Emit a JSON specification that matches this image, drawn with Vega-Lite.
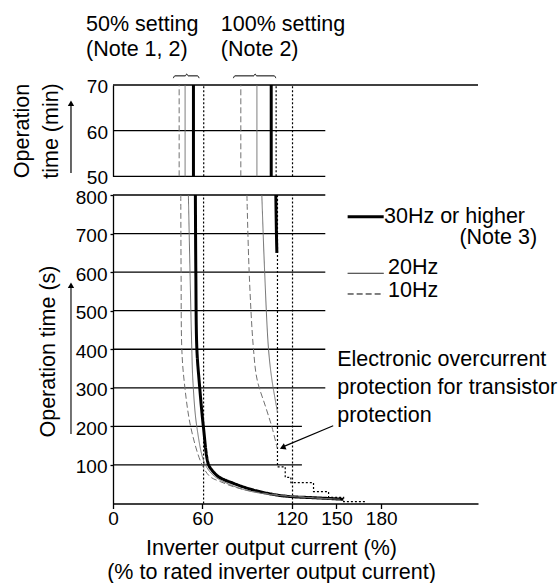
{
  "$schema": "https://vega.github.io/schema/vega-lite/v6.json",
  "padding": {"left": 11, "top": 13, "right": 0, "bottom": 0},
  "background": "white",
  "bounds": "flush",
  "spacing": 18,
  "resolve": {"scale": {"x": "independent", "y": "independent"}, "axis": {"x": "independent", "y": "independent"}},
  "config": {
    "font": "Liberation Sans",
    "view": {"stroke": null},
    "axis": {"labelFont": "Liberation Sans", "titleFont": "Liberation Sans", "labelColor": "#000", "titleColor": "#000", "domainColor": "#000", "tickColor": "#000", "grid": false, "labelFontSize": 19, "titleFontSize": 21.5, "titleFontWeight": "normal", "domainWidth": 1.3, "tickWidth": 1.3, "labelFlush": false},
    "text": {"font": "Liberation Sans", "fontSize": 21.5, "align": "left", "baseline": "alphabetic", "color": "#000"}
  },
  "datasets": {
    "gridTop": [
      {"y": 70, "x1": 0, "x2": 245},
      {"y": 60, "x1": 0, "x2": 142.5},
      {"y": 50, "x1": 0, "x2": 142.5}
    ],
    "vertTop": [
      {"setting": "50%", "kind": "10Hz", "x": 44.4},
      {"setting": "50%", "kind": "20Hz", "x": 48.4},
      {"setting": "50%", "kind": "30Hz or higher", "x": 54},
      {"setting": "50%", "kind": "limit", "x": 60.9},
      {"setting": "100%", "kind": "10Hz", "x": 85.8},
      {"setting": "100%", "kind": "20Hz", "x": 96.6},
      {"setting": "100%", "kind": "30Hz or higher", "x": 106.2},
      {"setting": "100%", "kind": "limit", "x": 109.5},
      {"setting": "100%", "kind": "limit", "x": 120.5}
    ],
    "braces": [
      {"b": "50%", "o": 1, "x": 40.5, "y": 71.5},
      {"b": "50%", "o": 2, "x": 41.5, "y": 72.0},
      {"b": "50%", "o": 3, "x": 48.5, "y": 72.0},
      {"b": "50%", "o": 4, "x": 49.5, "y": 72.4},
      {"b": "50%", "o": 5, "x": 50.5, "y": 72.0},
      {"b": "50%", "o": 6, "x": 56.8, "y": 72.0},
      {"b": "50%", "o": 7, "x": 57.8, "y": 71.5},
      {"b": "100%", "o": 1, "x": 80.8, "y": 71.5},
      {"b": "100%", "o": 2, "x": 81.8, "y": 72.0},
      {"b": "100%", "o": 3, "x": 94.4, "y": 72.0},
      {"b": "100%", "o": 4, "x": 95.4, "y": 72.4},
      {"b": "100%", "o": 5, "x": 96.4, "y": 72.0},
      {"b": "100%", "o": 6, "x": 108.3, "y": 72.0},
      {"b": "100%", "o": 7, "x": 109.3, "y": 71.5}
    ],
    "textTop": [
      {"x": -18.1, "y": 81.9, "t": "50% setting"},
      {"x": -18.1, "y": 76.3, "t": "(Note 1, 2)"},
      {"x": 72.4, "y": 81.9, "t": "100% setting"},
      {"x": 72.4, "y": 76.3, "t": "(Note 2)"}
    ],
    "arrowTop": [{"x": -28.2, "y1": 50.7, "y2": 65.6, "yh": 66.0}],
    "gridMain": [
      {"y": 800, "x1": 0, "x2": 142.5},
      {"y": 700, "x1": 0, "x2": 142.5},
      {"y": 600, "x1": 0, "x2": 142.5},
      {"y": 500, "x1": 0, "x2": 142.5},
      {"y": 400, "x1": 0, "x2": 142.5},
      {"y": 300, "x1": 0, "x2": 142.5},
      {"y": 200, "x1": 0, "x2": 126.8},
      {"y": 100, "x1": 0, "x2": 126.8}
    ],
    "curves": [
      {"setting": "50%", "kind": "30Hz or higher", "o": 1, "x": 55.3, "y": 800},
      {"setting": "50%", "kind": "30Hz or higher", "o": 2, "x": 55.6, "y": 600},
      {"setting": "50%", "kind": "30Hz or higher", "o": 3, "x": 56.3, "y": 400},
      {"setting": "50%", "kind": "30Hz or higher", "o": 4, "x": 58.0, "y": 310},
      {"setting": "50%", "kind": "30Hz or higher", "o": 5, "x": 60.7, "y": 198},
      {"setting": "50%", "kind": "30Hz or higher", "o": 6, "x": 64.0, "y": 102},
      {"setting": "50%", "kind": "30Hz or higher", "o": 7, "x": 66.3, "y": 87},
      {"setting": "50%", "kind": "30Hz or higher", "o": 8, "x": 70.8, "y": 69.5},
      {"setting": "50%", "kind": "30Hz or higher", "o": 9, "x": 80.8, "y": 52.4},
      {"setting": "50%", "kind": "30Hz or higher", "o": 10, "x": 94.3, "y": 35},
      {"setting": "50%", "kind": "30Hz or higher", "o": 11, "x": 110, "y": 22},
      {"setting": "50%", "kind": "30Hz or higher", "o": 12, "x": 120.3, "y": 17.6},
      {"setting": "50%", "kind": "30Hz or higher", "o": 13, "x": 134.6, "y": 15},
      {"setting": "50%", "kind": "30Hz or higher", "o": 14, "x": 154.6, "y": 11},
      {"setting": "50%", "kind": "20Hz", "o": 1, "x": 50.6, "y": 800},
      {"setting": "50%", "kind": "20Hz", "o": 2, "x": 51.7, "y": 600},
      {"setting": "50%", "kind": "20Hz", "o": 3, "x": 52.9, "y": 400},
      {"setting": "50%", "kind": "20Hz", "o": 4, "x": 53.6, "y": 320},
      {"setting": "50%", "kind": "20Hz", "o": 5, "x": 56.3, "y": 198},
      {"setting": "50%", "kind": "20Hz", "o": 6, "x": 61.8, "y": 102},
      {"setting": "50%", "kind": "20Hz", "o": 7, "x": 68.5, "y": 69.5},
      {"setting": "50%", "kind": "20Hz", "o": 8, "x": 78.6, "y": 49},
      {"setting": "50%", "kind": "20Hz", "o": 9, "x": 88.7, "y": 35},
      {"setting": "50%", "kind": "20Hz", "o": 10, "x": 102, "y": 25},
      {"setting": "50%", "kind": "20Hz", "o": 11, "x": 120, "y": 18},
      {"setting": "50%", "kind": "20Hz", "o": 12, "x": 152.5, "y": 11},
      {"setting": "50%", "kind": "10Hz", "o": 1, "x": 45.5, "y": 800},
      {"setting": "50%", "kind": "10Hz", "o": 2, "x": 45.7, "y": 600},
      {"setting": "50%", "kind": "10Hz", "o": 3, "x": 46.2, "y": 400},
      {"setting": "50%", "kind": "10Hz", "o": 4, "x": 47.7, "y": 320},
      {"setting": "50%", "kind": "10Hz", "o": 5, "x": 52.2, "y": 198},
      {"setting": "50%", "kind": "10Hz", "o": 6, "x": 59.6, "y": 102},
      {"setting": "50%", "kind": "10Hz", "o": 7, "x": 65.2, "y": 69.5},
      {"setting": "50%", "kind": "10Hz", "o": 8, "x": 71.9, "y": 57},
      {"setting": "50%", "kind": "10Hz", "o": 9, "x": 80.6, "y": 44},
      {"setting": "50%", "kind": "10Hz", "o": 10, "x": 95.4, "y": 30},
      {"setting": "50%", "kind": "10Hz", "o": 11, "x": 119, "y": 20},
      {"setting": "50%", "kind": "10Hz", "o": 12, "x": 149, "y": 11},
      {"setting": "100%", "kind": "30Hz or higher", "o": 1, "x": 109.3, "y": 800},
      {"setting": "100%", "kind": "30Hz or higher", "o": 2, "x": 109.7, "y": 700},
      {"setting": "100%", "kind": "30Hz or higher", "o": 3, "x": 110, "y": 650},
      {"setting": "100%", "kind": "20Hz", "o": 1, "x": 99.9, "y": 800},
      {"setting": "100%", "kind": "20Hz", "o": 2, "x": 101.8, "y": 600},
      {"setting": "100%", "kind": "20Hz", "o": 3, "x": 104.4, "y": 400},
      {"setting": "100%", "kind": "20Hz", "o": 4, "x": 106.7, "y": 320},
      {"setting": "100%", "kind": "20Hz", "o": 5, "x": 110.5, "y": 235},
      {"setting": "100%", "kind": "10Hz", "o": 1, "x": 89.9, "y": 800},
      {"setting": "100%", "kind": "10Hz", "o": 2, "x": 91.4, "y": 600},
      {"setting": "100%", "kind": "10Hz", "o": 3, "x": 94.3, "y": 400},
      {"setting": "100%", "kind": "10Hz", "o": 4, "x": 96.8, "y": 320},
      {"setting": "100%", "kind": "10Hz", "o": 5, "x": 102.5, "y": 250},
      {"setting": "100%", "kind": "10Hz", "o": 6, "x": 106.7, "y": 198},
      {"setting": "100%", "kind": "10Hz", "o": 7, "x": 110.2, "y": 144}
    ],
    "dottedMain": [
      {"kind": "limit", "x": 60.8},
      {"kind": "limit", "x": 120.5}
    ],
    "step": [
      {"kind": "limit", "o": 1, "x": 110.4, "y": 800},
      {"kind": "limit", "o": 2, "x": 110.4, "y": 95},
      {"kind": "limit", "o": 3, "x": 115.6, "y": 95},
      {"kind": "limit", "o": 4, "x": 115.6, "y": 68},
      {"kind": "limit", "o": 5, "x": 119.4, "y": 68},
      {"kind": "limit", "o": 6, "x": 119.4, "y": 54},
      {"kind": "limit", "o": 7, "x": 134.6, "y": 54},
      {"kind": "limit", "o": 8, "x": 134.6, "y": 31},
      {"kind": "limit", "o": 9, "x": 144.7, "y": 31},
      {"kind": "limit", "o": 10, "x": 144.7, "y": 16},
      {"kind": "limit", "o": 11, "x": 154.8, "y": 16},
      {"kind": "limit", "o": 12, "x": 154.8, "y": 5},
      {"kind": "limit", "o": 13, "x": 169.4, "y": 5}
    ],
    "legend": [
      {"kind": "30Hz or higher", "x1": 157.5, "x2": 181.7, "y": 743.8},
      {"kind": "20Hz", "x1": 157.5, "x2": 181.7, "y": 597},
      {"kind": "10Hz", "x1": 157.5, "x2": 181.7, "y": 543.3}
    ],
    "textMain": [
      {"x": 181.9, "y": 726.7, "t": "30Hz or higher"},
      {"x": 232.5, "y": 673, "t": "(Note 3)"},
      {"x": 184.6, "y": 595.2, "t": "20Hz"},
      {"x": 184.6, "y": 536.3, "t": "10Hz"},
      {"x": 150.5, "y": 357.4, "t": "Electronic overcurrent"},
      {"x": 150.5, "y": 285, "t": "protection for transistor"},
      {"x": 150.5, "y": 212, "t": "protection"}
    ],
    "arrowLines": [
      {"a": "axis", "o": 1, "x": -28.2, "y": 180.2},
      {"a": "axis", "o": 2, "x": -28.2, "y": 564},
      {"a": "note", "o": 1, "x": 147.8, "y": 201.8},
      {"a": "note", "o": 2, "x": 114.4, "y": 147.5}
    ],
    "arrowHeadAxis": [{"x": -28.2, "y": 566}],
    "arrowHeadNote": [{"x": 113.8, "y": 145.2}]
  },
  "vconcat": [
    {
      "width": 365,
      "height": 91.3,
      "layer": [
        {
          "data": {"name": "gridTop"},
          "mark": {"type": "rule", "color": "#000", "strokeWidth": 1.3},
          "encoding": {
            "x": {"field": "x1", "type": "quantitative", "scale": {"domain": [0, 245], "nice": false, "zero": false}, "axis": null},
            "x2": {"field": "x2"},
            "y": {"field": "y", "type": "quantitative", "scale": {"domain": [50, 70], "nice": false, "zero": false},
              "axis": {"values": [50, 60, 70], "tickSize": 0, "labelPadding": 5.5, "labelOffset": 1.5, "domain": true,
                "title": ["Operation", "time (min)"], "titleAngle": -90, "titleBaseline": "top", "titleAlign": "center", "titleLineHeight": 29, "titleX": -101.6, "titleY": 45.5}}
          }
        },
        {
          "data": {"name": "vertTop"},
          "mark": {"type": "rule"},
          "encoding": {
            "x": {"field": "x", "type": "quantitative"},
            "y": {"datum": 50, "type": "quantitative"},
            "y2": {"datum": 70},
            "color": {"field": "kind", "type": "nominal", "scale": {"type": "ordinal", "domain": ["30Hz or higher", "20Hz", "10Hz", "limit"], "range": ["#000000", "#707070", "#707070", "#000000"]}, "legend": null},
            "strokeWidth": {"field": "kind", "type": "nominal", "scale": {"type": "ordinal", "domain": ["30Hz or higher", "20Hz", "10Hz", "limit"], "range": [3, 1, 1, 1.2]}, "legend": null},
            "strokeDash": {"field": "kind", "type": "nominal", "scale": {"type": "ordinal", "domain": ["30Hz or higher", "20Hz", "10Hz", "limit"], "range": [[1, 0], [1, 0], [6, 3], [2, 2]]}, "legend": null}
          }
        },
        {
          "data": {"name": "braces"},
          "mark": {"type": "line", "color": "#000", "strokeWidth": 1, "interpolate": "monotone"},
          "encoding": {
            "x": {"field": "x", "type": "quantitative"},
            "y": {"field": "y", "type": "quantitative"},
            "detail": {"field": "b"},
            "order": {"field": "o"}
          }
        },
        {
          "data": {"name": "textTop"},
          "mark": {"type": "text"},
          "encoding": {
            "x": {"field": "x", "type": "quantitative"},
            "y": {"field": "y", "type": "quantitative"},
            "text": {"field": "t"}
          }
        },
        {
          "data": {"name": "arrowTop"},
          "mark": {"type": "rule", "color": "#000", "strokeWidth": 1.2},
          "encoding": {
            "x": {"field": "x", "type": "quantitative"},
            "y": {"field": "y1", "type": "quantitative"},
            "y2": {"field": "y2"}
          }
        },
        {
          "data": {"name": "arrowTop"},
          "mark": {"type": "point", "shape": "triangle-up", "filled": true, "color": "#000", "size": 40, "opacity": 1},
          "encoding": {
            "x": {"field": "x", "type": "quantitative"},
            "y": {"field": "yh", "type": "quantitative"}
          }
        }
      ]
    },
    {
      "width": 365,
      "height": 308.5,
      "layer": [
        {
          "data": {"name": "gridMain"},
          "mark": {"type": "rule", "color": "#000", "strokeWidth": 1.3},
          "encoding": {
            "x": {"field": "x1", "type": "quantitative", "scale": {"domain": [0, 245], "nice": false, "zero": false},
              "axis": {"values": [0, 60, 120, 150, 180], "tickSize": 5, "labelPadding": 1, "domain": true,
                "title": ["Inverter output current (%)", "(% to rated inverter output current)"], "titleBaseline": "top", "titleAlign": "center", "titleLineHeight": 24, "titleX": 158, "titleY": 33.5}},
            "x2": {"field": "x2"},
            "y": {"field": "y", "type": "quantitative", "scale": {"domain": [0, 800], "nice": false, "zero": false},
              "axis": {"values": [100, 200, 300, 400, 500, 600, 700, 800], "tickSize": 3, "labelPadding": 3, "labelOffset": 2, "domain": true,
                "title": "Operation time (s)", "titleAngle": -90, "titleBaseline": "alphabetic", "titleAlign": "center", "titleX": -58.5, "titleY": 156}}
          }
        },
        {
          "data": {"name": "dottedMain"},
          "mark": {"type": "rule", "color": "#000", "strokeWidth": 1.2, "strokeDash": [2, 2]},
          "encoding": {
            "x": {"field": "x", "type": "quantitative"},
            "y": {"datum": 0, "type": "quantitative"},
            "y2": {"datum": 800}
          }
        },
        {
          "data": {"name": "step"},
          "mark": {"type": "line", "color": "#000", "strokeWidth": 1.2, "strokeDash": [2, 2]},
          "encoding": {
            "x": {"field": "x", "type": "quantitative"},
            "y": {"field": "y", "type": "quantitative"},
            "order": {"field": "o"}
          }
        },
        {
          "data": {"name": "curves"},
          "mark": {"type": "line", "interpolate": "catmull-rom"},
          "encoding": {
            "x": {"field": "x", "type": "quantitative"},
            "y": {"field": "y", "type": "quantitative"},
            "detail": {"field": "setting"},
            "order": {"field": "o"},
            "color": {"field": "kind", "type": "nominal", "scale": {"type": "ordinal", "domain": ["30Hz or higher", "20Hz", "10Hz", "limit"], "range": ["#000000", "#707070", "#707070", "#000000"]}, "legend": null},
            "strokeWidth": {"field": "kind", "type": "nominal", "scale": {"type": "ordinal", "domain": ["30Hz or higher", "20Hz", "10Hz", "limit"], "range": [3, 1, 1, 1.2]}, "legend": null},
            "strokeDash": {"field": "kind", "type": "nominal", "scale": {"type": "ordinal", "domain": ["30Hz or higher", "20Hz", "10Hz", "limit"], "range": [[1, 0], [1, 0], [6, 3], [2, 2]]}, "legend": null}
          }
        },
        {
          "data": {"name": "legend"},
          "mark": {"type": "rule", "color": "#000"},
          "encoding": {
            "x": {"field": "x1", "type": "quantitative"},
            "x2": {"field": "x2"},
            "y": {"field": "y", "type": "quantitative"},
            "strokeWidth": {"field": "kind", "type": "nominal", "scale": {"type": "ordinal", "domain": ["30Hz or higher", "20Hz", "10Hz", "limit"], "range": [3, 1, 1, 1.2]}, "legend": null},
            "strokeDash": {"field": "kind", "type": "nominal", "scale": {"type": "ordinal", "domain": ["30Hz or higher", "20Hz", "10Hz", "limit"], "range": [[1, 0], [1, 0], [6, 3], [2, 2]]}, "legend": null}
          }
        },
        {
          "data": {"name": "textMain"},
          "mark": {"type": "text"},
          "encoding": {
            "x": {"field": "x", "type": "quantitative"},
            "y": {"field": "y", "type": "quantitative"},
            "text": {"field": "t"}
          }
        },
        {
          "data": {"name": "arrowLines"},
          "mark": {"type": "line", "color": "#000", "strokeWidth": 1.1},
          "encoding": {
            "x": {"field": "x", "type": "quantitative"},
            "y": {"field": "y", "type": "quantitative"},
            "detail": {"field": "a"},
            "order": {"field": "o"}
          }
        },
        {
          "data": {"name": "arrowHeadAxis"},
          "mark": {"type": "point", "shape": "triangle-up", "filled": true, "color": "#000", "size": 40, "opacity": 1},
          "encoding": {
            "x": {"field": "x", "type": "quantitative"},
            "y": {"field": "y", "type": "quantitative"}
          }
        },
        {
          "data": {"name": "arrowHeadNote"},
          "mark": {"type": "point", "shape": "triangle-up", "filled": true, "color": "#000", "size": 45, "opacity": 1, "angle": 246.7},
          "encoding": {
            "x": {"field": "x", "type": "quantitative"},
            "y": {"field": "y", "type": "quantitative"}
          }
        }
      ]
    }
  ]
}
